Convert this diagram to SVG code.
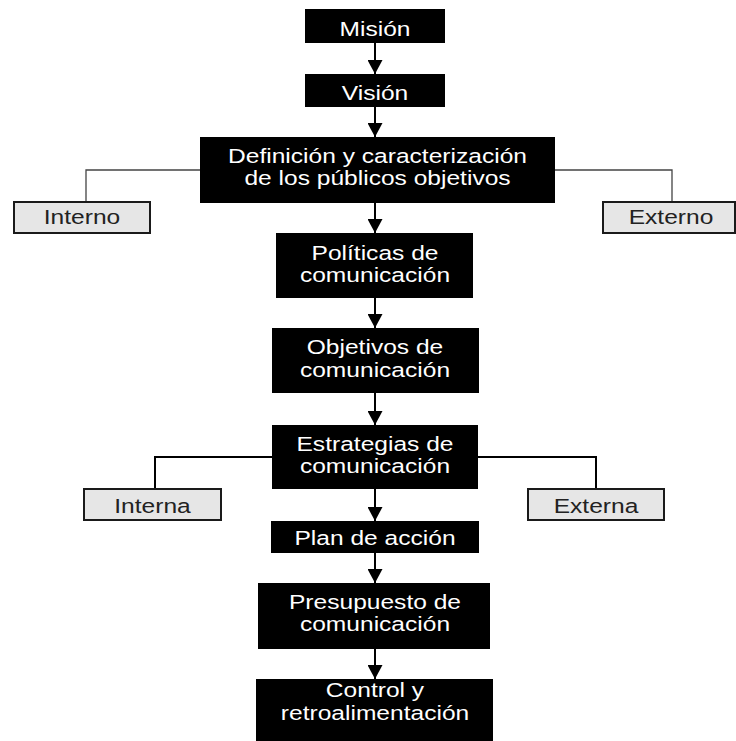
<svg xmlns="http://www.w3.org/2000/svg" width="736" height="741" viewBox="0 0 736 741">
<defs>
<style>
.box{fill:#000;stroke:none}
.sub{fill:#e6e6e6;stroke:#1a1a1a;stroke-width:2}
.t{font-family:"Liberation Sans",Arial,sans-serif;font-size:19.5px;fill:#fff;text-anchor:middle}
.ts{font-family:"Liberation Sans",Arial,sans-serif;font-size:19.5px;fill:#222;text-anchor:middle}
.arr{stroke:#000;stroke-width:2;fill:none;marker-end:url(#ah)}
.thin{stroke:#444;stroke-width:1.3;fill:none}
.thick{stroke:#000;stroke-width:2;fill:none}
</style>
<marker id="ah" viewBox="0 0 14 15" refX="14" refY="7.5" markerWidth="14" markerHeight="15" markerUnits="userSpaceOnUse" orient="auto">
<path d="M0,0 L14,7.5 L0,15 z" fill="#000"/>
</marker>
</defs>
<rect width="736" height="741" fill="#fff"/>
<g id="connectors">
<line class="arr" x1="375" y1="43" x2="375" y2="74"/>
<line class="arr" x1="375" y1="107" x2="375" y2="137"/>
<line class="arr" x1="375" y1="203" x2="375" y2="233"/>
<line class="arr" x1="375" y1="298" x2="375" y2="328"/>
<line class="arr" x1="375" y1="393" x2="375" y2="425"/>
<line class="arr" x1="375" y1="489" x2="375" y2="521"/>
<line class="arr" x1="375" y1="553" x2="375" y2="583"/>
<line class="arr" x1="375" y1="649" x2="375" y2="679"/>
<polyline class="thin" points="200,170 86,170 86,202"/>
<polyline class="thin" points="555,170 672,170 672,202"/>
<polyline class="thick" points="272,457 155,457 155,489"/>
<polyline class="thick" points="478,457 596,457 596,489"/>
</g>
<g id="mision">
<rect class="box" x="305" y="9" width="140" height="34"/>
<text class="t" transform="translate(375,36) scale(1.26,1)">Misión</text>
</g>
<g id="vision">
<rect class="box" x="305" y="74" width="140" height="33"/>
<text class="t" transform="translate(375,100) scale(1.26,1)">Visión</text>
</g>
<g id="definicion">
<rect class="box" x="200" y="137" width="355" height="66"/>
<text class="t" transform="translate(377.5,163) scale(1.26,1)">Definición y caracterización</text>
<text class="t" transform="translate(377.5,185) scale(1.26,1)">de los públicos objetivos</text>
</g>
<g id="interno">
<rect class="sub" x="14" y="202" width="136" height="31"/>
<text class="ts" transform="translate(82,224) scale(1.26,1)">Interno</text>
</g>
<g id="externo">
<rect class="sub" x="603" y="202" width="132" height="31"/>
<text class="ts" transform="translate(671,224) scale(1.26,1)">Externo</text>
</g>
<g id="politicas">
<rect class="box" x="276" y="233" width="197" height="65"/>
<text class="t" transform="translate(375,260) scale(1.26,1)">Políticas de</text>
<text class="t" transform="translate(375,282) scale(1.26,1)">comunicación</text>
</g>
<g id="objetivos">
<rect class="box" x="272" y="328" width="207" height="65"/>
<text class="t" transform="translate(375,354) scale(1.26,1)">Objetivos de</text>
<text class="t" transform="translate(375,377) scale(1.26,1)">comunicación</text>
</g>
<g id="estrategias">
<rect class="box" x="272" y="425" width="206" height="64"/>
<text class="t" transform="translate(375,451) scale(1.26,1)">Estrategias de</text>
<text class="t" transform="translate(375,473) scale(1.26,1)">comunicación</text>
</g>
<g id="interna">
<rect class="sub" x="84" y="489" width="137" height="31"/>
<text class="ts" transform="translate(152.5,513) scale(1.26,1)">Interna</text>
</g>
<g id="externa">
<rect class="sub" x="528" y="489" width="136" height="31"/>
<text class="ts" transform="translate(596,513) scale(1.26,1)">Externa</text>
</g>
<g id="plan">
<rect class="box" x="271" y="521" width="208" height="32"/>
<text class="t" transform="translate(375,545) scale(1.26,1)">Plan de acción</text>
</g>
<g id="presupuesto">
<rect class="box" x="258" y="583" width="232" height="66"/>
<text class="t" transform="translate(375,609) scale(1.26,1)">Presupuesto de</text>
<text class="t" transform="translate(375,631) scale(1.26,1)">comunicación</text>
</g>
<g id="control">
<rect class="box" x="256" y="679" width="237" height="62"/>
<text class="t" transform="translate(375,697) scale(1.26,1)">Control y</text>
<text class="t" transform="translate(375,720) scale(1.26,1)">retroalimentación</text>
</g>
</svg>
